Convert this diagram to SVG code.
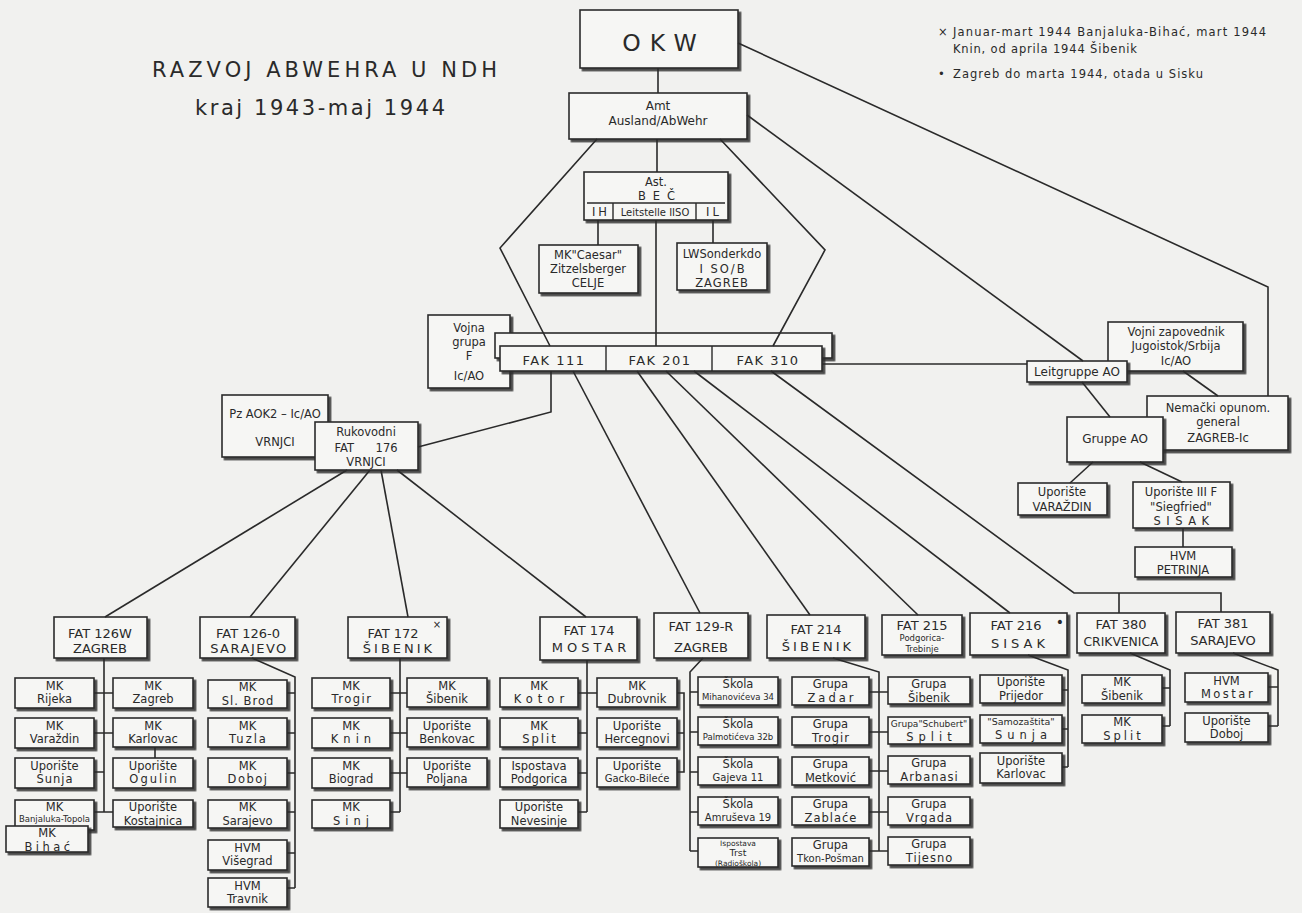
<svg xmlns="http://www.w3.org/2000/svg" width="1302" height="913" viewBox="0 0 1302 913">
<defs>
<filter id="sh" x="-10%" y="-10%" width="130%" height="150%"><feDropShadow dx="2.5" dy="2.5" stdDeviation="0.4" flood-color="#2e2e2e" flood-opacity="0.85"/></filter>
<style>
text{font-family:"DejaVu Sans","Liberation Sans",sans-serif;font-size:11.5px;fill:#2a2a2a;text-anchor:middle}
.n rect{fill:#f6f6f4;stroke:#2a2a2a;stroke-width:1.6;filter:url(#sh)}
.n path{fill:none;stroke:#2a2a2a;stroke-width:1.4}
.t{font-size:13px}
.s{font-size:10px}
.xs{font-size:8.5px}
#connectors path{fill:none;stroke:#2a2a2a;stroke-width:1.6}
.title{font-size:21px;text-anchor:start}
.note{font-size:11.5px;text-anchor:start}
</style>
</defs>
<rect width="1302" height="913" fill="#f1f1ef"/>

<text class="title" x="152" y="77" textLength="345" lengthAdjust="spacing">RAZVOJ ABWEHRA U NDH</text>
<text class="title" x="195" y="115" textLength="250" lengthAdjust="spacing">kraj 1943-maj 1944</text>

<text class="note" x="938" y="36">×</text>
<text class="note" x="953" y="36" textLength="313" lengthAdjust="spacing">Januar-mart 1944  Banjaluka-Bihać, mart 1944</text>
<text class="note" x="953" y="53" textLength="184" lengthAdjust="spacing">Knin, od aprila 1944  Šibenik</text>
<text class="note" x="938" y="78">•</text>
<text class="note" x="953" y="78" textLength="250" lengthAdjust="spacing">Zagreb do marta 1944, otada u Sisku</text>

<g id="n-okw" class="n"><rect x="580" y="10" width="158" height="58"/><text x="664" y="51" style="font-size:23.5px;letter-spacing:9px">OKW</text></g>
<g id="n-amt" class="n"><rect x="569" y="93" width="178" height="46"/><text x="658" y="110" style="font-size:12px">Amt</text><text x="658" y="125" style="font-size:12px">Ausland/AbWehr</text></g>
<g id="n-ast" class="n"><rect x="584" y="172" width="144" height="48"/><text x="656" y="186">Ast.</text><text x="660" y="200" style="letter-spacing:7px">BEČ</text><path d="M587,203H725M613,203V220M696,203V220"/><text x="601" y="216" style="letter-spacing:3px">IH</text><text x="655" y="216" class="s">Leitstelle IISO</text><text x="714" y="216" style="letter-spacing:3px">IL</text></g>
<g id="n-caesar" class="n"><rect x="539" y="245" width="99" height="48"/><text x="588" y="259">MK"Caesar"</text><text x="588" y="273">Zitzelsberger</text><text x="588" y="287">CELJE</text></g>
<g id="n-lw" class="n"><rect x="677" y="243" width="90" height="47"/><text x="722" y="258">LWSonderkdo</text><text x="723" y="273" style="letter-spacing:2px">I SO/B</text><text x="722" y="287" style="letter-spacing:1px">ZAGREB</text></g>
<g id="n-vojna" class="n"><rect x="428" y="315" width="82" height="73"/><text x="469" y="332">Vojna</text><text x="469" y="346">grupa</text><text x="469" y="360">F</text><text x="469" y="380">Ic/AO</text></g>
<g id="n-fak" class="n"><rect x="495" y="333" width="337" height="25"/><rect x="500" y="346" width="322" height="25"/><path d="M606,346V371M712,346V371"/><text x="554" y="365" style="font-size:13px;letter-spacing:1.5px">FAK 111</text><text x="660" y="365" style="font-size:13px;letter-spacing:1.5px">FAK 201</text><text x="768" y="365" style="font-size:13px;letter-spacing:1.5px">FAK 310</text></g>
<g id="n-vojni" class="n"><rect x="1108" y="322" width="135" height="49"/><text x="1176" y="336">Vojni zapovednik</text><text x="1176" y="350">Jugoistok/Srbija</text><text x="1176" y="365">Ic/AO</text></g>
<g id="n-leit" class="n"><rect x="1027" y="361" width="100" height="21"/><text x="1077" y="376" style="font-size:12px">Leitgruppe AO</text></g>
<g id="n-nemacki" class="n"><rect x="1147" y="396" width="141" height="54"/><text x="1218" y="412">Nemački opunom.</text><text x="1218" y="426">general</text><text x="1218" y="442">ZAGREB-Ic</text></g>
<g id="n-gruppe" class="n"><rect x="1067" y="417" width="96" height="45"/><text x="1115" y="443" style="font-size:12px">Gruppe AO</text></g>
<g id="n-varazdin" class="n"><rect x="1018" y="483" width="89" height="32"/><text x="1062" y="496">Uporište</text><text x="1062" y="511">VARAŽDIN</text></g>
<g id="n-siegfried" class="n"><rect x="1133" y="482" width="97" height="46"/><text x="1181" y="496">Uporište III F</text><text x="1181" y="511">"Siegfried"</text><text x="1184" y="525" style="letter-spacing:5.5px">SISAK</text></g>
<g id="n-petrinja" class="n"><rect x="1135" y="547" width="97" height="30"/><text x="1183" y="559.5">HVM</text><text x="1183" y="573.5">PETRINJA</text></g>
<g id="n-pzaok2" class="n"><rect x="222" y="395" width="106" height="62"/><text x="275" y="418">Pz AOK2 – Ic/AO</text><text x="275" y="446">VRNJCI</text></g>
<g id="n-rukovodni" class="n"><rect x="315" y="422" width="103" height="48"/><text x="366" y="436">Rukovodni</text><text x="366" y="452" style="word-spacing:18px">FAT 176</text><text x="366" y="466">VRNJCI</text></g>

<g id="n-fat126w" class="n"><rect x="54" y="617" width="93" height="41"/><text class="t" x="100" y="637.5">FAT 126W</text><text class="t" x="100" y="653">ZAGREB</text></g>
<g id="n-fat1260" class="n"><rect x="200" y="617" width="95" height="41"/><text class="t" x="248" y="637.5">FAT 126-0</text><text class="t" x="249" y="653" style="letter-spacing:1.5px">SARAJEVO</text></g>
<g id="n-fat172" class="n"><rect x="348" y="617" width="99" height="41"/><text class="t" x="393" y="637.5">FAT 172</text><text x="437" y="628" class="s">×</text><text class="t" x="399" y="653" style="letter-spacing:3px">ŠIBENIK</text></g>
<g id="n-fat174" class="n"><rect x="540" y="617" width="97" height="43"/><text class="t" x="589" y="635">FAT 174</text><text class="t" x="591" y="652" style="letter-spacing:4px">MOSTAR</text></g>
<g id="n-fat129r" class="n"><rect x="654" y="613" width="94" height="45"/><text class="t" x="701" y="631">FAT 129-R</text><text class="t" x="701" y="652">ZAGREB</text></g>
<g id="n-fat214" class="n"><rect x="767" y="615" width="98" height="43"/><text class="t" x="816" y="634">FAT 214</text><text class="t" x="818" y="651" style="letter-spacing:3px">ŠIBENIK</text></g>
<g id="n-fat215" class="n"><rect x="882" y="615" width="80" height="40"/><text class="t" x="922" y="629.5">FAT 215</text><text class="xs" x="922" y="641">Podgorica-</text><text class="xs" x="922" y="652">Trebinje</text></g>
<g id="n-fat216" class="n"><rect x="970" y="613" width="97" height="42"/><text class="t" x="1016" y="630">FAT 216</text><text x="1060" y="627" style="font-size:14px">•</text><text class="t" x="1020" y="648" style="letter-spacing:4px">SISAK</text></g>
<g id="n-fat380" class="n"><rect x="1077" y="613" width="88" height="40"/><text class="t" x="1121" y="629">FAT 380</text><text class="t" x="1121" y="646" textLength="75" lengthAdjust="spacingAndGlyphs">CRIKVENICA</text></g>
<g id="n-fat381" class="n"><rect x="1176" y="612" width="94" height="41"/><text class="t" x="1223" y="628">FAT 381</text><text class="t" x="1223" y="645">SARAJEVO</text></g>

<g id="n-mk-rijeka" class="n"><rect x="15" y="678" width="79" height="30"/><text x="54.5" y="689.5">MK</text><text x="54.5" y="703">Rijeka</text></g>
<g id="n-mk-zagreb" class="n"><rect x="113" y="678" width="80" height="30"/><text x="153" y="689.5">MK</text><text x="153" y="703">Zagreb</text></g>
<g id="n-mk-varazdin" class="n"><rect x="15" y="718" width="79" height="30"/><text x="54.5" y="729.5">MK</text><text x="54.5" y="743">Varaždin</text></g>
<g id="n-mk-karlovac" class="n"><rect x="113" y="718" width="80" height="29"/><text x="153" y="729.5">MK</text><text x="153" y="743">Karlovac</text></g>
<g id="n-up-sunja" class="n"><rect x="15" y="758" width="79" height="30"/><text x="54.5" y="769.5">Uporište</text><text x="55" y="783" style="letter-spacing:1px">Sunja</text></g>
<g id="n-up-ogulin" class="n"><rect x="113" y="758" width="80" height="30"/><text x="153" y="769.5">Uporište</text><text x="154" y="783" style="letter-spacing:2px">Ogulin</text></g>
<g id="n-mk-banjaluka" class="n"><rect x="15" y="800" width="79" height="30"/><text x="54.5" y="810.5">MK</text><text class="xs" x="54.5" y="821.5">Banjaluka-Topola</text></g>
<g id="n-up-kostajnica" class="n"><rect x="113" y="800" width="80" height="27"/><text x="153" y="811">Uporište</text><text x="153" y="824.5">Kostajnica</text></g>
<g id="n-mk-bihac" class="n"><rect x="6" y="826" width="82" height="26"/><text x="47" y="837">MK</text><text x="49" y="850.5" style="letter-spacing:3.5px">Bihać</text></g>

<g id="n-mk-slbrod" class="n"><rect x="208" y="680" width="79" height="28"/><text x="247.5" y="691">MK</text><text x="248" y="704.5" style="letter-spacing:1px">Sl. Brod</text></g>
<g id="n-mk-tuzla" class="n"><rect x="208" y="718" width="79" height="29"/><text x="247.5" y="729.5">MK</text><text x="248.5" y="743" style="letter-spacing:2px">Tuzla</text></g>
<g id="n-mk-doboj" class="n"><rect x="208" y="758" width="79" height="29"/><text x="247.5" y="769.5">MK</text><text x="248" y="783" style="letter-spacing:1.5px">Doboj</text></g>
<g id="n-mk-sarajevo" class="n"><rect x="208" y="800" width="79" height="28"/><text x="247.5" y="811">MK</text><text x="247.5" y="824.5">Sarajevo</text></g>
<g id="n-hvm-visegrad" class="n"><rect x="208" y="840" width="79" height="30"/><text x="247.5" y="851.5">HVM</text><text x="247.5" y="865">Višegrad</text></g>
<g id="n-hvm-travnik" class="n"><rect x="208" y="878" width="79" height="29"/><text x="247.5" y="889.5">HVM</text><text x="247.5" y="903">Travnik</text></g>

<g id="n-mk-trogir" class="n"><rect x="312" y="678" width="78" height="30"/><text x="351" y="689.5">MK</text><text x="352" y="703" style="letter-spacing:1.5px">Trogir</text></g>
<g id="n-mk-knin" class="n"><rect x="312" y="718" width="78" height="30"/><text x="351" y="729.5">MK</text><text x="353.5" y="743" style="letter-spacing:5px">Knin</text></g>
<g id="n-mk-biograd" class="n"><rect x="312" y="758" width="78" height="30"/><text x="351" y="769.5">MK</text><text x="351" y="783">Biograd</text></g>
<g id="n-mk-sinj" class="n"><rect x="312" y="800" width="78" height="28"/><text x="351" y="811">MK</text><text x="353.5" y="824.5" style="letter-spacing:5px">Sinj</text></g>
<g id="n-mk-sibenik1" class="n"><rect x="407" y="678" width="80" height="29"/><text x="447" y="689.5">MK</text><text x="447" y="703">Šibenik</text></g>
<g id="n-up-benkovac" class="n"><rect x="407" y="718" width="80" height="29"/><text x="447" y="729.5">Uporište</text><text x="447" y="743">Benkovac</text></g>
<g id="n-up-poljana" class="n"><rect x="407" y="758" width="80" height="29"/><text x="447" y="769.5">Uporište</text><text x="447" y="783">Poljana</text></g>

<g id="n-mk-kotor" class="n"><rect x="500" y="678" width="78" height="29"/><text x="539" y="689.5">MK</text><text x="541.5" y="703" style="letter-spacing:5px">Kotor</text></g>
<g id="n-mk-split1" class="n"><rect x="500" y="718" width="78" height="29"/><text x="539" y="729.5">MK</text><text x="540" y="743" style="letter-spacing:2px">Split</text></g>
<g id="n-isp-podgorica" class="n"><rect x="500" y="758" width="78" height="29"/><text x="539" y="769.5">Ispostava</text><text x="539" y="783">Podgorica</text></g>
<g id="n-up-nevesinje" class="n"><rect x="500" y="800" width="78" height="28"/><text x="539" y="811">Uporište</text><text x="539" y="824.5">Nevesinje</text></g>
<g id="n-mk-dubrovnik" class="n"><rect x="597" y="678" width="80" height="29"/><text x="637" y="689.5">MK</text><text x="637" y="703">Dubrovnik</text></g>
<g id="n-up-hercegnovi" class="n"><rect x="597" y="718" width="80" height="29"/><text x="637" y="729.5">Uporište</text><text x="637" y="743">Hercegnovi</text></g>
<g id="n-up-gacko" class="n"><rect x="597" y="758" width="80" height="29"/><text x="637" y="769.5">Uporište</text><text class="s" x="637" y="782">Gacko-Bileće</text></g>

<g id="n-skola1" class="n"><rect x="698" y="677" width="80" height="28"/><text x="738" y="688">Škola</text><text class="xs" x="738" y="699.5">Mihanovićeva 34</text></g>
<g id="n-skola2" class="n"><rect x="698" y="717" width="80" height="28"/><text x="738" y="728">Škola</text><text class="xs" x="738" y="739.5">Palmotićeva 32b</text></g>
<g id="n-skola3" class="n"><rect x="698" y="757" width="80" height="28"/><text x="738" y="768">Škola</text><text class="s" x="738" y="781">Gajeva 11</text></g>
<g id="n-skola4" class="n"><rect x="698" y="797" width="80" height="28"/><text x="738" y="808">Škola</text><text class="s" x="738" y="821">Amruševa 19</text></g>
<g id="n-isp-trst" class="n"><rect x="698" y="838" width="80" height="29"/><text x="738" y="845.5" style="font-size:7.5px">Ispostava</text><text x="738" y="856.2" style="font-size:9.5px">Trst</text><text x="738" y="865.5" style="font-size:7.5px">(Radioškola)</text></g>

<g id="n-gr-zadar" class="n"><rect x="792" y="677" width="77" height="28"/><text x="830.5" y="688">Grupa</text><text x="832" y="701.5" style="letter-spacing:3px">Zadar</text></g>
<g id="n-gr-trogir" class="n"><rect x="792" y="717" width="77" height="28"/><text x="830.5" y="728">Grupa</text><text x="831" y="741.5" style="letter-spacing:1px">Trogir</text></g>
<g id="n-gr-metkovic" class="n"><rect x="792" y="757" width="77" height="28"/><text x="830.5" y="768">Grupa</text><text x="830.5" y="781.5">Metković</text></g>
<g id="n-gr-zablace" class="n"><rect x="792" y="797" width="77" height="28"/><text x="830.5" y="808">Grupa</text><text x="831" y="821.5" style="letter-spacing:1px">Zablaće</text></g>
<g id="n-gr-tkon" class="n"><rect x="792" y="838" width="77" height="28"/><text x="830.5" y="849">Grupa</text><text class="s" x="830.5" y="862">Tkon-Pošman</text></g>
<g id="n-gr-sibenik" class="n"><rect x="888" y="677" width="82" height="27"/><text x="929" y="688">Grupa</text><text x="929" y="701.5">Šibenik</text></g>
<g id="n-gr-schubert" class="n"><rect x="888" y="717" width="82" height="27"/><text x="929" y="727" style="font-size:9px">Grupa"Schubert"</text><text x="931.5" y="740.5" style="letter-spacing:5px">Split</text></g>
<g id="n-gr-arbanasi" class="n"><rect x="888" y="756" width="82" height="28"/><text x="929" y="767">Grupa</text><text x="929.5" y="780.5" style="letter-spacing:1px">Arbanasi</text></g>
<g id="n-gr-vrgada" class="n"><rect x="888" y="797" width="82" height="28"/><text x="929" y="808">Grupa</text><text x="929.5" y="821.5" style="letter-spacing:1px">Vrgada</text></g>
<g id="n-gr-tijesno" class="n"><rect x="888" y="837" width="82" height="28"/><text x="929" y="848">Grupa</text><text x="929.5" y="861.5" style="letter-spacing:1px">Tijesno</text></g>

<g id="n-up-prijedor" class="n"><rect x="980" y="675" width="82" height="28"/><text x="1021" y="686">Uporište</text><text x="1021" y="699.5">Prijedor</text></g>
<g id="n-samozastita" class="n"><rect x="980" y="715" width="82" height="28"/><text x="1021" y="725" style="font-size:9.5px">"Samozaštita"</text><text x="1023.5" y="738.5" style="letter-spacing:5px">Sunja</text></g>
<g id="n-up-karlovac" class="n"><rect x="980" y="753" width="82" height="30"/><text x="1021" y="764.5">Uporište</text><text x="1021" y="778">Karlovac</text></g>

<g id="n-mk-sibenik3" class="n"><rect x="1082" y="675" width="80" height="28"/><text x="1122" y="686">MK</text><text x="1122" y="699.5">Šibenik</text></g>
<g id="n-mk-split3" class="n"><rect x="1082" y="715" width="80" height="28"/><text x="1122" y="726">MK</text><text x="1123.5" y="739.5" style="letter-spacing:3px">Split</text></g>

<g id="n-hvm-mostar" class="n"><rect x="1185" y="673" width="83" height="29"/><text x="1226.5" y="684.5">HVM</text><text x="1228" y="698" style="letter-spacing:2.5px">Mostar</text></g>
<g id="n-up-doboj" class="n"><rect x="1185" y="713" width="83" height="29"/><text x="1226.5" y="724.5">Uporište</text><text x="1226.5" y="738">Doboj</text></g>

<g id="connectors">
<path d="M658,68V93"/>
<path d="M738,43L1268,287V396"/>
<path d="M747,115L1083,361"/>
<path d="M657,139V172"/>
<path d="M597,139L500,248L550,346"/>
<path d="M720,139L825,250L773,346"/>
<path d="M598,220V245"/>
<path d="M713,220V243"/>
<path d="M656,220V346"/>
<path d="M822,364H1027"/>
<path d="M1183,371L1218,396"/>
<path d="M1082,382L1110,417"/>
<path d="M1093,462L1070,483"/>
<path d="M1140,462L1182,482"/>
<path d="M1183,528V547"/>
<path d="M551,371V412L418,447"/>
<path d="M347,470L105,617"/>
<path d="M370,470L250,617"/>
<path d="M381,470L408,617"/>
<path d="M397,470L586,617"/>
<path d="M573,371L700,613"/>
<path d="M637,371L810,615"/>
<path d="M666,371L918,615"/>
<path d="M694,371L1010,613"/>
<path d="M771,371L1074,593H1221V612M1119,593V613"/>
<path d="M104,658V812M94,693H113M94,733H113M94,772H104M94,812H113M155,747V758"/>
<path d="M252,658L295,677V888M287,693H295M287,733H295M287,773H295M287,812H295M287,853H295M287,888H295"/>
<path d="M400,658V812M390,693H407M390,733H407M390,773H407M390,812H400"/>
<path d="M587,660V812M578,693H597M578,733H587M578,773H587M578,812H587M677,693H684V772H677M677,733H684"/>
<path d="M703,658L690,672V851M690,692H698M690,732H698M690,772H698M690,812H698M690,851H698"/>
<path d="M833,658L879,672V851M869,692H888M869,732H888M869,771H888M869,812H888M869,851H888"/>
<path d="M1028,655L1068,670V767M1062,690H1068M1062,729H1068M1062,767H1068"/>
<path d="M1130,653L1170,670V726M1162,688H1170M1162,726H1170"/>
<path d="M1233,653L1278,670V726M1268,687H1278M1268,726H1278"/>
</g>
</svg>
